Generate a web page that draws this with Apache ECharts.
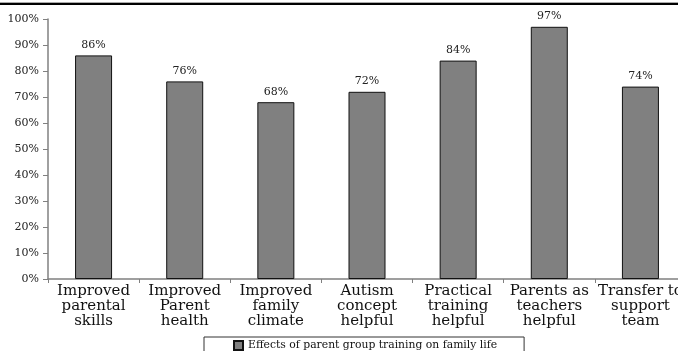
<!DOCTYPE html>
<html>
<head>
<meta charset="utf-8">
<script src="https://cdn.jsdelivr.net/npm/echarts@6/dist/echarts.min.js"></script>
<style>
  html, body { margin: 0; padding: 0; background: #fff; }
  #chart { width: 678px; height: 351px; }
</style>
</head>
<body>
<div id="chart"></div>
<script>
// Categories (multi-line axis labels)
const categories = [
  'Improved\nparental\nskills',
  'Improved\nParent\nhealth',
  'Improved\nfamily\nclimate',
  'Autism\nconcept\nhelpful',
  'Practical\ntraining\nhelpful',
  'Parents as\nteachers\nhelpful',
  'Transfer to\nsupport\nteam'
];
// Percentage of parents reporting each effect
const values = [86, 76, 68, 72, 84, 97, 74];
const seriesName = 'Effects of parent group training on family life';
const yTicks = [0, 10, 20, 30, 40, 50, 60, 70, 80, 90, 100];

const serif = 'DejaVu Serif';
const chart = echarts.init(document.getElementById('chart'), null, { renderer: 'canvas' });

chart.setOption({
  animation: false,
  backgroundColor: '#ffffff',
  textStyle: { fontFamily: serif },
  graphic: [
    { type: 'rect', left: 0, top: 2, shape: { width: 678, height: 1 }, style: { fill: '#aaaaaa' }, silent: true },
    { type: 'rect', left: 0, top: 3, shape: { width: 678, height: 2 }, style: { fill: '#000000' }, silent: true }
  ],
  // plot area runs past the right edge of the canvas
  grid: { left: 48, top: 19, bottom: 72, width: 638, containLabel: false, outerBoundsMode: 'none' },
  legend: {
    left: 204,
    top: 337,
    padding: [3, 27, 14, 29],
    borderColor: '#333',
    borderWidth: 1,
    itemWidth: 9,
    itemHeight: 9,
    icon: 'rect',
    textStyle: { fontFamily: serif, fontSize: 10.8, color: '#111' },
    data: [seriesName]
  },
  xAxis: {
    type: 'category',
    data: categories,
    axisLine: { lineStyle: { color: '#808080', width: 1.5 } },
    axisTick: { show: true, length: 4, lineStyle: { color: '#808080' } },
    axisLabel: {
      interval: 0,
      margin: 5,
      fontFamily: serif,
      fontSize: 15,
      lineHeight: 15,
      color: '#111',
      hideOverlap: false
    }
  },
  yAxis: {
    type: 'value',
    min: yTicks[0],
    max: yTicks[yTicks.length - 1],
    interval: 10,
    splitLine: { show: false },
    axisLine: { show: true, lineStyle: { color: '#808080', width: 1.5 } },
    axisTick: { show: true, length: 5, lineStyle: { color: '#808080' } },
    axisLabel: {
      formatter: '{value}%',
      margin: 9,
      fontFamily: serif,
      fontSize: 11,
      color: '#222'
    }
  },
  series: [{
    name: seriesName,
    type: 'bar',
    data: values,
    barWidth: 37,
    itemStyle: { color: '#808080', borderColor: '#111', borderWidth: 1 },
    label: {
      show: true,
      position: 'top',
      distance: 5,
      formatter: '{c}%',
      fontFamily: serif,
      fontSize: 11,
      color: '#222'
    }
  }]
});
</script>
</body>
</html>
